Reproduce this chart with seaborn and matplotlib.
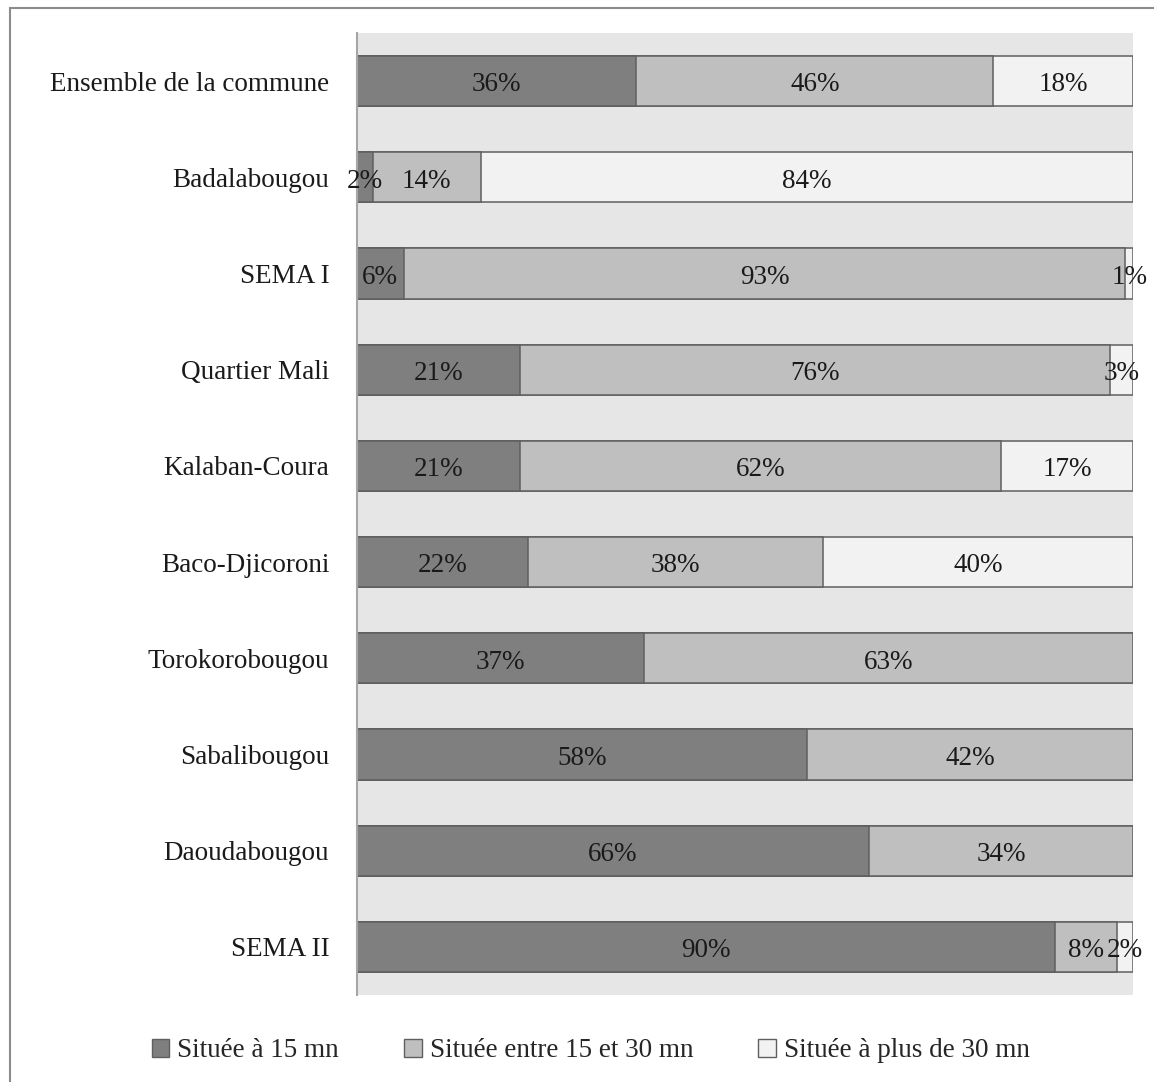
import matplotlib.pyplot as plt
import matplotlib.patches as mpatches
import seaborn as sns
import pandas as pd
import numpy as np

## data ##
quartiers = ['Ensemble de la commune', 'Badalabougou', 'SEMA I', 'Quartier Mali',
             'Kalaban-Coura', 'Baco-Djicoroni', 'Torokorobougou', 'Sabalibougou',
             'Daoudabougou', 'SEMA II']
moins_15 = [36, 2, 6, 21, 21, 22, 37, 58, 66, 90]
entre_15_30 = [46, 14, 93, 76, 62, 38, 63, 42, 34, 8]
plus_30 = [18, 84, 1, 3, 17, 40, 0, 0, 0, 2]
series_names = ['Située à 15 mn', 'Située entre 15 et 30 mn', 'Située à plus de 30 mn']

## style ##
sns.set_style('white')
plt.rcParams['font.family'] = ['Liberation Serif', 'DejaVu Serif']
colors = ['#7f7f7f', '#bfbfbf', '#f2f2f2']
edge = '#5f5f5f'
fs = 19.5

df = pd.DataFrame({'quartier': quartiers, 'a': moins_15, 'b': entre_15_30, 'c': plus_30})
df['cum_a'] = df['a']
df['cum_b'] = df['a'] + df['b']
df['cum_c'] = df['a'] + df['b'] + df['c']

fig = plt.figure(figsize=(11.54, 10.82), dpi=100)
ax = fig.add_axes([357 / 1154, 87 / 1082, 776 / 1154, 962 / 1082])
ax.set_facecolor('#e6e6e6')

# stacked bars drawn as overlapping cumulative totals
for col, c in zip(['cum_c', 'cum_b', 'cum_a'], colors[::-1]):
    sns.barplot(data=df, x=col, y='quartier', orient='h', color=c, width=0.52,
                edgecolor=edge, linewidth=1.1, ax=ax, saturation=1)

# value labels in segment centres
for i, row in df.iterrows():
    starts = [0, row['cum_a'], row['cum_b']]
    for v, s in zip([row['a'], row['b'], row['c']], starts):
        if v > 0:
            ax.text(s + v / 2, i + 0.04, f'{v}%', ha='center', va='center',
                    fontsize=fs, color='#1a1a1a')

ax.set_xlim(0, 100)
ax.set_ylim(9.5, -0.5)
ax.set_xlabel('')
ax.set_ylabel('')
ax.set_xticks([])
ax.tick_params(axis='y', length=0, pad=20, labelsize=fs, labelcolor='#1a1a1a')
for s in ['top', 'right', 'bottom']:
    ax.spines[s].set_visible(False)
ax.spines['left'].set_color('#a6a6a6')
ax.spines['left'].set_linewidth(1.5)

handles = [mpatches.Patch(facecolor=c, edgecolor=edge, linewidth=1.0) for c in colors]
fig.legend(handles, series_names, loc='center', bbox_to_anchor=(0.512, 0.029), ncol=3,
           frameon=False, fontsize=fs, handlelength=0.65, handleheight=0.65,
           handletextpad=0.3, columnspacing=2.4)

# outer frame
fig.add_artist(mpatches.Rectangle((9.5 / 1154, -0.05), 1.2, (1082 - 7.5) / 1082 + 0.05,
                                  transform=fig.transFigure, fill=False,
                                  edgecolor='#8c8c8c', linewidth=1.5))

plt.savefig('out.png', dpi=100)
plt.close()
